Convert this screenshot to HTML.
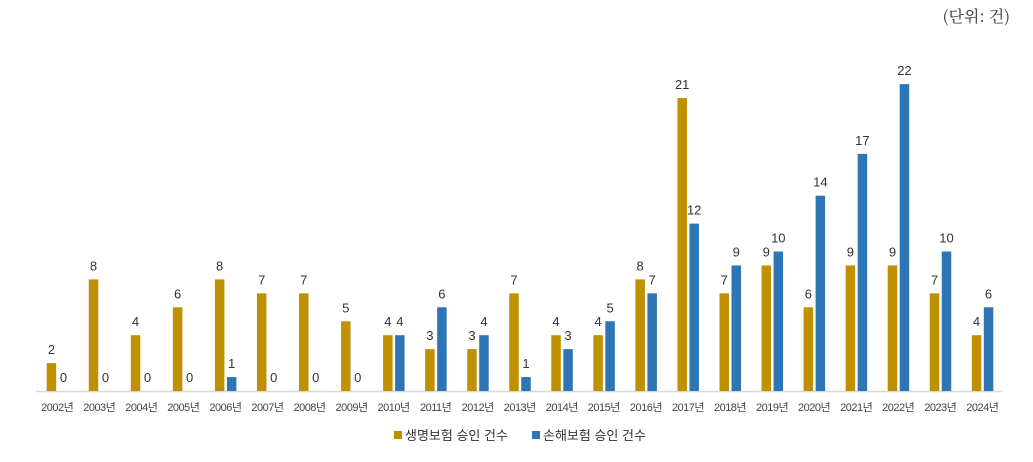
<!DOCTYPE html>
<html><head><meta charset="utf-8"><style>
body{margin:0;background:#fff;width:1033px;height:457px;overflow:hidden;font-family:"Liberation Sans","Noto Sans CJK KR",sans-serif}
</style></head><body>
<svg id="c" width="1033" height="457">
<text x="1010" y="22" text-anchor="end" font-family="'Noto Serif CJK SC','Liberation Serif',serif" font-size="16" fill="#333">(단위: 건)</text>
<line x1="36" y1="391.5" x2="1002" y2="391.5" stroke="#d9d9d9" stroke-width="1.5"/>
<g id="bars"></g>
<g>
<rect x="394" y="431" width="8" height="8" fill="#bf9000"/>
<text x="405" y="440" font-size="13" fill="#333">생명보험 승인 건수</text>
<rect x="532" y="431" width="8" height="8" fill="#2e75b6"/>
<text x="543" y="440" font-size="13" fill="#333">손해보험 승인 건수</text>
</g>
</svg>
<script>
const categories=["2002년","2003년","2004년","2005년","2006년","2007년","2008년","2009년","2010년","2011년","2012년","2013년","2014년","2015년","2016년","2017년","2018년","2019년","2020년","2021년","2022년","2023년","2024년"];
const lifeValues=[2,8,4,6,8,7,7,5,4,3,3,7,4,4,8,21,7,9,6,9,9,7,4];
const nonlifeValues=[0,0,0,0,1,0,0,0,4,6,4,1,3,5,7,12,9,10,14,17,22,10,6];
const NS="http://www.w3.org/2000/svg";
const g=document.getElementById("bars");
const x0=46.7,step=42.05,bw=9.5,base=391,unit=13.95;
const xScale=i=>x0+i*step;
const yScale=v=>base-v*unit;
function mk(t,a){const e=document.createElementNS(NS,t);for(const k in a)e.setAttribute(k,a[k]);return e;}
categories.forEach((c,i)=>{
  const gx=xScale(i);
  [[lifeValues[i],"#bf9000",0,"bar-life"],[nonlifeValues[i],"#2e75b6",12,"bar-nonlife"]].forEach(([v,col,off,nm])=>{
    const y=yScale(v);
    const r=mk("rect",{x:gx+off,y:y,width:bw,height:base-y,fill:col});
    
    
    g.appendChild(r);
    const t=mk("text",{x:gx+off+bw/2,y:y-9,"text-anchor":"middle","font-size":"13",fill:"#333"});
    t.textContent=v;
    
    
    g.appendChild(t);
  });
  const l=mk("text",{x:gx+10.5,y:411,"text-anchor":"middle","font-size":"11",fill:"#444","letter-spacing":"-0.5"});
  l.textContent=c;
  
  
  g.appendChild(l);
});
</script>
</body></html>
